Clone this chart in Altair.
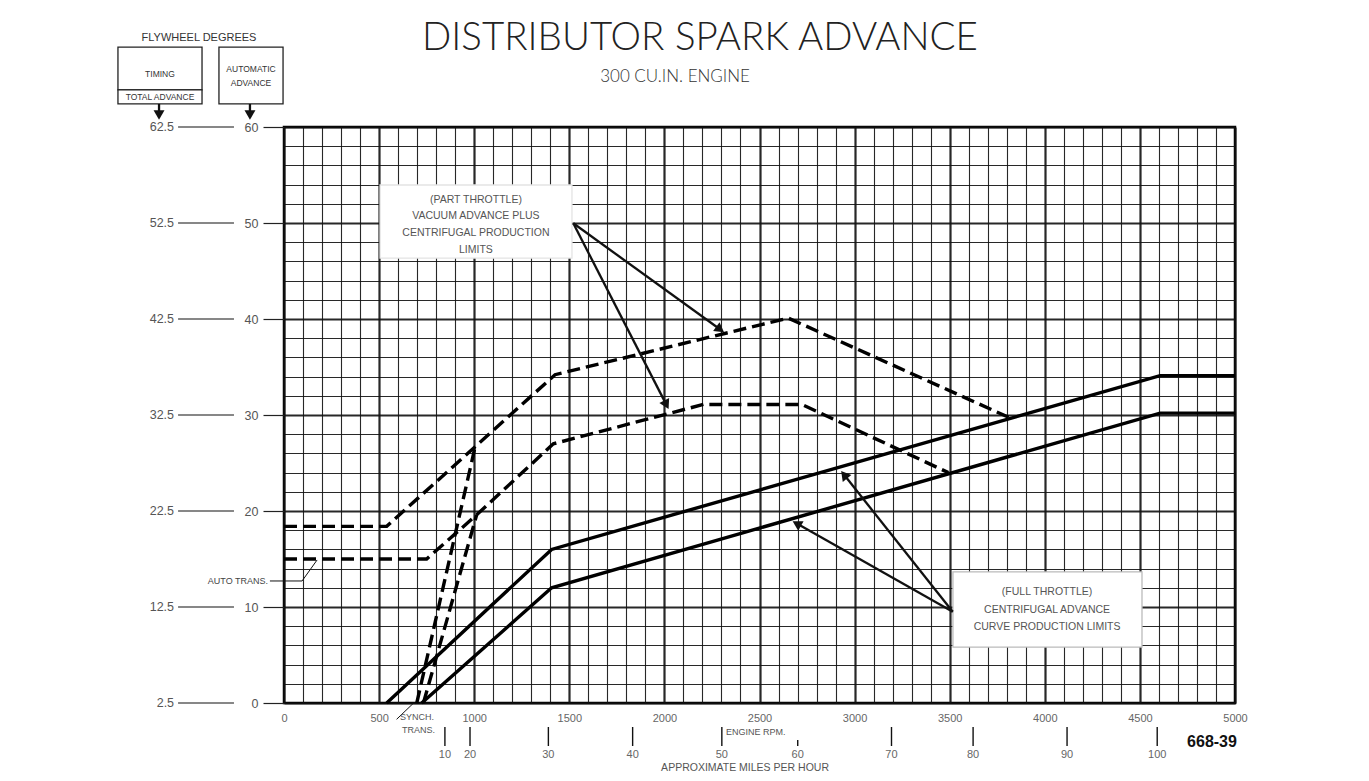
import math
import altair as alt
import pandas as pd

# ---------------- data ----------------
# (part throttle) vacuum + centrifugal limits, dashed
upper_dashed_rpm = [0, 540, 1005, 1425, 2651, 3817]
upper_dashed_deg = [18.4, 18.4, 26.7, 34.2, 40.1, 29.7]
lower_dashed_rpm = [0, 750, 1013, 1416, 2205, 2722, 3493]
lower_dashed_deg = [15.0, 15.0, 19.6, 27.0, 31.1, 31.1, 24.0]
steep_a_rpm = [698, 1005]
steep_a_deg = [0.0, 26.7]
steep_b_rpm = [733, 1013]
steep_b_deg = [0.0, 19.6]
# (full throttle) centrifugal limits, solid
upper_solid_rpm = [540, 1407, 4606, 5000]
upper_solid_deg = [0.0, 16.0, 34.1, 34.1]
lower_solid_rpm = [724, 1407, 4606, 5000]
lower_solid_deg = [0.0, 12.0, 30.2, 30.2]

# axes
rpm_grid = list(range(0, 5001, 100))
deg_grid = list(range(0, 61, 2))
auto_adv_ticks = [0, 10, 20, 30, 40, 50, 60]
flywheel_labels = ["2.5", "12.5", "22.5", "32.5", "42.5", "52.5", "62.5"]
mph_labels = ["10", "20", "30", "40", "50", "60", "70", "80", "90", "100"]
mph_rpm = [846, 978, 1390, 1833, 2302, 2701, 3194, 3623, 4117, 4591]

# ---------------- geometry ----------------
W, H = 951, 576
X_DOM, Y_DOM = [0, 5000], [0, 60]
SX = W / (X_DOM[1] - X_DOM[0])   # px per rpm
SY = H / (Y_DOM[1] - Y_DOM[0])   # px per degree
xs = alt.Scale(domain=X_DOM, nice=False, zero=False)
ys = alt.Scale(domain=Y_DOM, nice=False, zero=False)


def X(field="rpm", **kw):
    return alt.X(f"{field}:Q", scale=xs, title=None, **kw)


def Y(field="deg", **kw):
    return alt.Y(f"{field}:Q", scale=ys, title=None, **kw)


def series(name, rpm, deg):
    return [{"series": name, "rpm": r, "deg": d, "i": i} for i, (r, d) in enumerate(zip(rpm, deg))]


dashed_df = pd.DataFrame(
    series("upper_dashed", upper_dashed_rpm, upper_dashed_deg)
    + series("lower_dashed", lower_dashed_rpm, lower_dashed_deg)
    + series("steep_a", steep_a_rpm, steep_a_deg)
    + series("steep_b", steep_b_rpm, steep_b_deg)
)
solid_df = pd.DataFrame(
    series("upper_solid", upper_solid_rpm, upper_solid_deg)
    + series("lower_solid", lower_solid_rpm, lower_solid_deg)
)

grid_w = {"condition": {"test": "datum.value % 500 === 0", "value": 2.2}, "value": 1.1}
grid_wy = {"condition": {"test": "datum.value % 10 === 0", "value": 2.2}, "value": 1.1}

x_axis = alt.Axis(
    values=rpm_grid, grid=True, gridColor="#111", gridWidth=grid_w, gridOpacity=0.9,
    ticks=False, domain=False, format="d",
    labelExpr="datum.value % 500 === 0 ? datum.label : ''",
    labelFont="Liberation Sans", labelFontSize=11, labelColor="#666",
    labelPadding=9, labelFlush=False, labelOverlap=False)
y_axis = alt.Axis(
    values=deg_grid, grid=True, gridColor="#111", gridWidth=grid_wy, gridOpacity=0.9,
    ticks=True, tickSize=21, tickColor="#222", tickWidth=1.2,
    tickOpacity={"condition": {"test": "datum.value % 10 === 0", "value": 1}, "value": 0},
    domain=False, format="d",
    labelExpr="datum.value % 10 === 0 ? datum.label : ''",
    labelFont="Liberation Sans", labelFontSize=12.5, labelColor="#555",
    labelPadding=5, labelOverlap=False)

solid = alt.Chart(solid_df).mark_line(color="black", strokeWidth=3.4).encode(
    x=X(axis=x_axis), y=Y(axis=y_axis), detail="series:N", order="i:Q",
)

dashed = alt.Chart(dashed_df).mark_line(color="black", strokeWidth=3.4, strokeDash=[13, 6]).encode(
    x=X(axis=x_axis), y=Y(axis=y_axis), detail="series:N", order="i:Q"
)

# ---------------- annotation boxes ----------------
boxes_df = pd.DataFrame([
    {"x": 505, "x2": 1514, "y": 53.96, "y2": 46.35, "stroke": "#e4e4e4"},
    {"x": 3517, "x2": 4511, "y": 13.65, "y2": 5.83, "stroke": "#bbb"},
    {"x": -873, "x2": -431, "y": 68.33, "y2": 63.86, "stroke": "#222"},
    {"x": -873, "x2": -431, "y": 63.86, "y2": 62.4, "stroke": "#222"},
    {"x": -342, "x2": -5, "y": 68.33, "y2": 62.4, "stroke": "#222"},
])
boxes = alt.Chart(boxes_df).mark_rect(fill="white", strokeWidth=1.3).encode(
    x=X("x", axis=x_axis), x2="x2:Q", y=Y("y", axis=y_axis), y2="y2:Q",
    stroke=alt.Stroke("stroke:N", scale=None)
)

# ---------------- rules: connectors, mph ticks, leaders, arrows ----------------
rules = []
for d in auto_adv_ticks:
    rules.append({"x": -557, "x2": -263, "y": d, "y2": d, "w": 1.2})
for lab, r in zip(mph_labels, mph_rpm):
    top = -3.85 if lab == "60" else -2.5
    rules.append({"x": r, "x2": r, "y": top, "y2": -4.48, "w": 1.4})
rules.append({"x": -74, "x2": 95, "y": 12.71, "y2": 12.71, "w": 1.0})
rules.append({"x": 95, "x2": 174, "y": 12.71, "y2": 14.9, "w": 1.0})
rules.append({"x": 592, "x2": 680, "y": -1.70, "y2": -0.03, "w": 1.0})

arrows = [
    (1521, 49.97, 2310, 38.68),
    (1521, 49.97, 2020, 30.70),
    (3516, 9.51, 2932, 24.09),
    (3516, 9.51, 2678, 18.89),
    (-657, 62.4, -657, 60.83),
    (-179, 62.4, -179, 60.83),
]
HEAD_SIZE = 120
back = 5.5
heads = []
for x1, y1, x2, y2 in arrows:
    dxp = (x2 - x1) * SX
    dyp = -(y2 - y1) * SY
    L = math.hypot(dxp, dyp)
    ang = math.degrees(math.atan2(dxp, -dyp)) % 360
    hx = x2 - dxp / L * back / SX
    hy = y2 + dyp / L * back / SY
    rules.append({"x": x1, "x2": hx, "y": y1, "y2": hy, "w": 2.3})
    heads.append({"rpm": hx, "deg": hy, "angle": ang})

rules_df = pd.DataFrame(rules)
rule_layer = alt.Chart(rules_df).mark_rule(color="#111").encode(
    x=X("x", axis=x_axis), x2="x2:Q", y=Y("y", axis=y_axis), y2="y2:Q",
    strokeWidth=alt.StrokeWidth("w:Q", scale=None)
)
head_layer = alt.Chart(pd.DataFrame(heads)).mark_point(
    shape="triangle", filled=True, size=HEAD_SIZE, color="#111", opacity=1
).encode(x=X(axis=x_axis), y=Y(axis=y_axis), angle=alt.Angle("angle:Q", scale=None))


# ---------------- texts ----------------
def text_layer(rows, **kw):
    base = dict(baseline="middle", color="#444", font="Liberation Sans")
    base.update(kw)
    return alt.Chart(pd.DataFrame(rows)).mark_text(**base).encode(
        x=X(axis=x_axis), y=Y(axis=y_axis), text="text:N")


title = text_layer([{"rpm": 2187, "deg": 69.27, "text": "DISTRIBUTOR SPARK ADVANCE"}],
                   font="Lato", fontWeight=300, fontSize=38.5, color="#222", align="center")
subtitle = text_layer([{"rpm": 2056, "deg": 65.2, "text": "300 CU.IN. ENGINE"}],
                      font="Lato", fontWeight=300, fontSize=17, color="#333", align="center")
header = text_layer([
    {"rpm": -447, "deg": 69.27, "text": "FLYWHEEL DEGREES"},
], fontSize=11, align="center", color="#333")
header_small = text_layer([
    {"rpm": -652, "deg": 65.5, "text": "TIMING"},
    {"rpm": -652, "deg": 63.1, "text": "TOTAL ADVANCE"},
    {"rpm": -173.5, "deg": 66.0, "text": "AUTOMATIC"},
    {"rpm": -173.5, "deg": 64.6, "text": "ADVANCE"},
], fontSize=8.5, align="center", color="#333")
flywheel = text_layer([
    {"rpm": -578, "deg": d, "text": t} for d, t in zip(auto_adv_ticks, flywheel_labels)
], fontSize=12.5, align="right", color="#555")
part = text_layer([
    {"rpm": 1009, "deg": 52.4, "text": "(PART THROTTLE)"},
    {"rpm": 1009, "deg": 50.75, "text": "VACUUM ADVANCE PLUS"},
    {"rpm": 1009, "deg": 48.96, "text": "CENTRIFUGAL PRODUCTION"},
    {"rpm": 1009, "deg": 47.19, "text": "LIMITS"},
    {"rpm": 4012, "deg": 11.56, "text": "(FULL THROTTLE)"},
    {"rpm": 4012, "deg": 9.69, "text": "CENTRIFUGAL ADVANCE"},
    {"rpm": 4012, "deg": 7.92, "text": "CURVE PRODUCTION LIMITS"},
], fontSize=10.5, align="center", color="#555")
left_notes = text_layer([
    {"rpm": -84, "deg": 12.71, "text": "AUTO TRANS."},
], fontSize=9, align="right", color="#444")
synch = text_layer([
    {"rpm": 610, "deg": -1.43, "text": "SYNCH."},
    {"rpm": 620, "deg": -2.81, "text": "TRANS."},
    {"rpm": 2324, "deg": -3.02, "text": "ENGINE RPM."},
], fontSize=9, align="left", color="#555")
mph = text_layer([
    {"rpm": r, "deg": -5.42, "text": t} for r, t in zip(mph_rpm, mph_labels)
], fontSize=11, align="center", color="#666")
mph_title = text_layer([{"rpm": 2424, "deg": -6.72, "text": "APPROXIMATE MILES PER HOUR"}],
                       fontSize=10.5, align="center", color="#555")
figno = text_layer([{"rpm": 4879, "deg": -4.11, "text": "668-39"}],
                   fontSize=16, fontWeight="bold", align="center", color="#111")

chart = alt.layer(
    solid, boxes, dashed, rule_layer, head_layer,
    title, subtitle, header, header_small, flywheel, part, left_notes, synch, mph, mph_title, figno,
).properties(
    width=W, height=H,
    padding={"left": 276, "top": 119, "right": 120, "bottom": 70},
    autosize=alt.AutoSizeParams(type="none"),
    background="white",
).configure_view(stroke="black", strokeWidth=2.5)

chart.save("out.html", embed_options={"renderer": "svg", "actions": False})
